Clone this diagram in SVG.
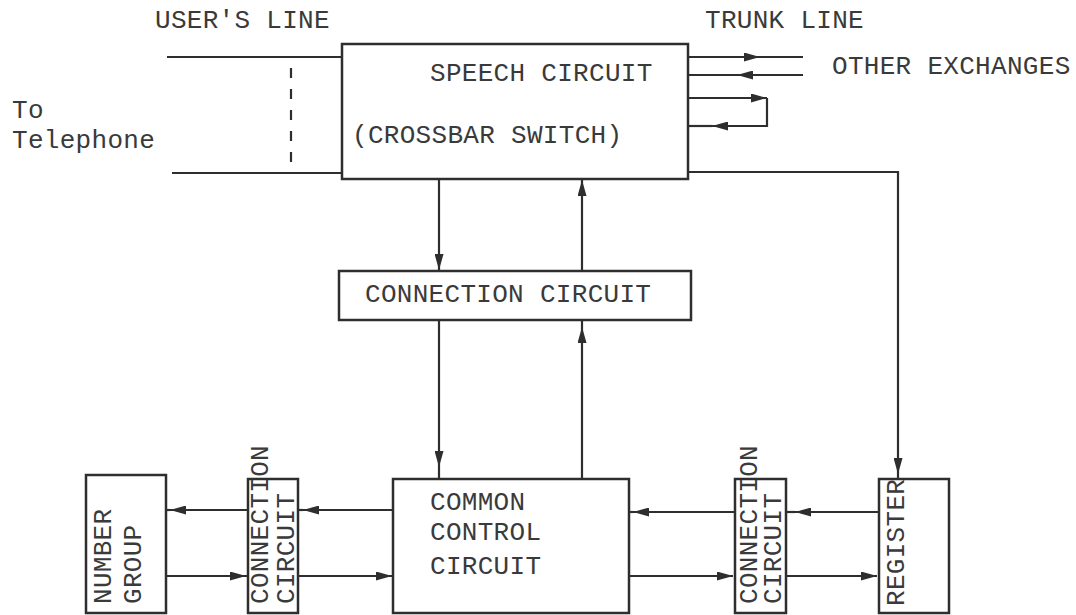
<svg xmlns="http://www.w3.org/2000/svg" width="1076" height="615" viewBox="0 0 1076 615">
  <style>
    .bx { fill: none; stroke: #2e2e2e; stroke-width: 2.5; }
    .ln { fill: none; stroke: #2e2e2e; stroke-width: 2.2; }
    .ar { marker-end: url(#ah); }
    .t { font-family: "Liberation Mono", "DejaVu Sans Mono", monospace; font-size: 26px; letter-spacing: 0.3px; fill: #3a3a3a; }
  </style>
  <defs>
    <marker id="ah" viewBox="0 0 16 9" refX="16" refY="4.5" markerWidth="16" markerHeight="9" markerUnits="userSpaceOnUse" orient="auto">
      <path d="M0,0 L16,4.5 L0,9 z" fill="#2e2e2e"/>
    </marker>
  </defs>
  <rect width="1076" height="615" fill="#ffffff"/>

  <g id="labels">
    <text class="t" x="155" y="28">USER'S LINE</text>
    <text class="t" x="705" y="28">TRUNK LINE</text>
    <text class="t" x="832" y="74">OTHER EXCHANGES</text>
    <text class="t" x="12" y="118">To</text>
    <text class="t" x="12" y="148">Telephone</text>
  </g>

  <g id="speech-circuit">
    <rect class="bx" x="342" y="44" width="346" height="135"/>
    <text class="t" x="430" y="81">SPEECH CIRCUIT</text>
    <text class="t" x="352" y="143">(CROSSBAR SWITCH)</text>
  </g>

  <g id="connection-circuit-top">
    <rect class="bx" x="339" y="271" width="352" height="49"/>
    <text class="t" x="365" y="302">CONNECTION CIRCUIT</text>
  </g>

  <g id="common-control">
    <rect class="bx" x="393" y="479" width="236" height="134"/>
    <text class="t" x="430" y="510">COMMON</text>
    <text class="t" x="430" y="540">CONTROL</text>
    <text class="t" x="430" y="574">CIRCUIT</text>
  </g>

  <g id="number-group">
    <rect class="bx" x="86" y="475" width="80" height="138"/>
    <text class="t" transform="translate(111,604) rotate(-90)">NUMBER</text>
    <text class="t" transform="translate(141,604) rotate(-90)">GROUP</text>
  </g>

  <g id="connection-circuit-left">
    <rect class="bx" x="248" y="479" width="50" height="134"/>
    <text class="t" transform="translate(268,604) rotate(-90)">CONNECTION</text>
    <text class="t" transform="translate(294,604) rotate(-90)">CIRCUIT</text>
  </g>

  <g id="connection-circuit-right">
    <rect class="bx" x="735" y="479" width="51" height="134"/>
    <text class="t" transform="translate(757,604) rotate(-90)">CONNECTION</text>
    <text class="t" transform="translate(781,604) rotate(-90)">CIRCUIT</text>
  </g>

  <g id="register">
    <rect class="bx" x="879" y="479" width="70" height="134"/>
    <text class="t" transform="translate(904,606) rotate(-90)">REGISTER</text>
  </g>

  <g id="connectors">
    <!-- user's line -->
    <path class="ln" d="M167 57 H342"/>
    <path class="ln" d="M172 173 H342"/>
    <path class="ln" d="M291 68 V162" stroke-dasharray="10 11" stroke-width="2.8"/>

    <!-- trunk lines -->
    <path class="ln ar" d="M688 57 H760"/>
    <path class="ln" d="M760 57 H803"/>
    <path class="ln ar" d="M803 75 H737"/>
    <path class="ln" d="M737 75 H688"/>
    <path class="ln ar" d="M688 98 H767"/>
    <path class="ln ar" d="M767 98 V126 H712"/>
    <path class="ln" d="M712 126 H688"/>

    <!-- speech to register -->
    <path class="ln ar" d="M688 172 H898 V474"/>
    <path class="ln" d="M898 474 V479"/>

    <!-- speech <-> connection -->
    <path class="ln ar" d="M439 179 V270"/>
    <path class="ln ar" d="M582 270 V180"/>

    <!-- connection <-> common control -->
    <path class="ln ar" d="M439 320 V467"/>
    <path class="ln" d="M439 467 V479"/>
    <path class="ln ar" d="M582 479 V327"/>
    <path class="ln" d="M582 327 V320"/>

    <!-- left bottom -->
    <path class="ln ar" d="M393 510 H303"/>
    <path class="ln" d="M303 510 H298"/>
    <path class="ln ar" d="M248 510 H170"/>
    <path class="ln" d="M170 510 H166"/>
    <path class="ln ar" d="M166 576 H246"/>
    <path class="ln" d="M246 576 H248"/>
    <path class="ln ar" d="M298 576 H392"/>

    <!-- right bottom -->
    <path class="ln ar" d="M879 512 H795"/>
    <path class="ln" d="M795 512 H786"/>
    <path class="ln ar" d="M735 512 H633"/>
    <path class="ln" d="M633 512 H629"/>
    <path class="ln ar" d="M629 576 H733"/>
    <path class="ln ar" d="M786 576 H877"/>
  </g>
</svg>
